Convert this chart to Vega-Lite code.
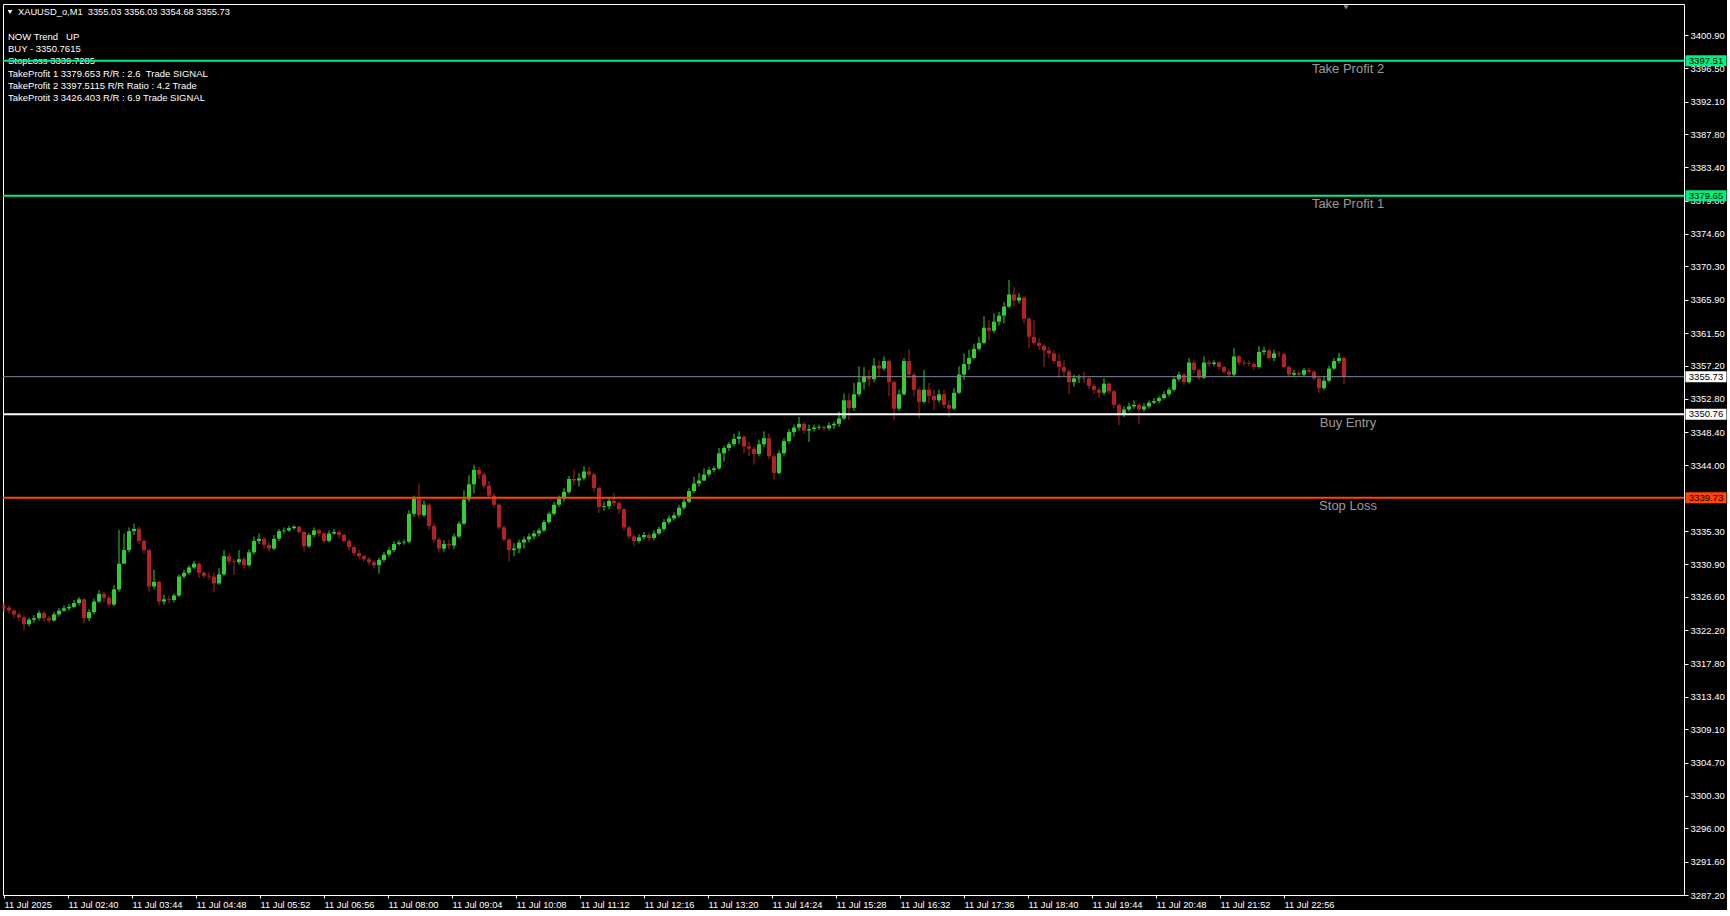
{
"$schema":"https://vega.github.io/schema/vega-lite/v6.json",
"width":1681,"height":891,
"padding":{"left":2,"top":4,"right":0,"bottom":0},
"background":"#000000",
"config":{"view":{"stroke":"#FFFFFF","strokeWidth":1,"fill":"#000000"},"axis":{"grid":false,"domain":false,"labelOverlap":false},"scale":{"continuousPadding":0}},
"datasets":{
"candles":[
{"m":96,"o":3325.4,"h":3325.9,"l":3324.6,"c":3325.2},
{"m":101,"o":3325.2,"h":3325.5,"l":3324.4,"c":3324.8},
{"m":106,"o":3324.8,"h":3325.0,"l":3323.8,"c":3324.3},
{"m":111,"o":3324.3,"h":3324.6,"l":3323.4,"c":3323.9},
{"m":116,"o":3323.9,"h":3324.2,"l":3322.2,"c":3323.0},
{"m":121,"o":3323.0,"h":3323.9,"l":3322.7,"c":3323.6},
{"m":126,"o":3323.6,"h":3324.2,"l":3323.2,"c":3323.8},
{"m":131,"o":3323.8,"h":3324.8,"l":3323.5,"c":3324.5},
{"m":136,"o":3324.5,"h":3324.7,"l":3323.4,"c":3323.8},
{"m":141,"o":3323.8,"h":3324.1,"l":3323.2,"c":3323.5},
{"m":146,"o":3323.5,"h":3324.6,"l":3323.3,"c":3324.3},
{"m":151,"o":3324.3,"h":3325.1,"l":3324.0,"c":3324.8},
{"m":156,"o":3324.8,"h":3325.5,"l":3324.6,"c":3325.1},
{"m":161,"o":3325.1,"h":3325.7,"l":3324.8,"c":3325.3},
{"m":166,"o":3325.3,"h":3326.2,"l":3325.1,"c":3325.8},
{"m":171,"o":3325.8,"h":3326.6,"l":3325.5,"c":3326.3},
{"m":176,"o":3326.3,"h":3326.5,"l":3323.1,"c":3323.8},
{"m":181,"o":3323.8,"h":3325.0,"l":3323.4,"c":3324.6},
{"m":186,"o":3324.6,"h":3326.4,"l":3324.3,"c":3326.0},
{"m":191,"o":3326.0,"h":3327.5,"l":3325.8,"c":3327.0},
{"m":196,"o":3327.0,"h":3327.3,"l":3325.9,"c":3326.5},
{"m":201,"o":3326.5,"h":3326.8,"l":3325.3,"c":3325.6},
{"m":206,"o":3325.6,"h":3328.2,"l":3325.4,"c":3327.6},
{"m":211,"o":3327.6,"h":3335.5,"l":3327.3,"c":3331.0},
{"m":216,"o":3331.0,"h":3335.0,"l":3331.4,"c":3332.8},
{"m":221,"o":3332.8,"h":3335.8,"l":3332.5,"c":3335.3},
{"m":226,"o":3335.3,"h":3336.3,"l":3334.8,"c":3335.6},
{"m":231,"o":3335.6,"h":3335.9,"l":3333.6,"c":3334.0},
{"m":236,"o":3334.0,"h":3334.3,"l":3332.3,"c":3332.8},
{"m":241,"o":3332.8,"h":3333.0,"l":3327.3,"c":3328.0},
{"m":246,"o":3328.0,"h":3330.2,"l":3327.6,"c":3328.6},
{"m":251,"o":3328.6,"h":3328.8,"l":3325.5,"c":3326.0},
{"m":256,"o":3326.0,"h":3326.9,"l":3325.6,"c":3326.3},
{"m":261,"o":3326.3,"h":3326.8,"l":3325.8,"c":3326.2},
{"m":266,"o":3326.2,"h":3327.1,"l":3325.9,"c":3326.8},
{"m":271,"o":3326.8,"h":3329.6,"l":3326.6,"c":3329.3},
{"m":276,"o":3329.3,"h":3330.2,"l":3329.0,"c":3329.8},
{"m":281,"o":3329.8,"h":3330.8,"l":3329.5,"c":3330.5},
{"m":286,"o":3330.5,"h":3331.4,"l":3330.3,"c":3331.0},
{"m":291,"o":3331.0,"h":3331.2,"l":3329.1,"c":3329.8},
{"m":296,"o":3329.8,"h":3330.0,"l":3329.1,"c":3329.4},
{"m":301,"o":3329.4,"h":3329.9,"l":3328.9,"c":3329.3},
{"m":306,"o":3329.3,"h":3329.8,"l":3327.3,"c":3328.4},
{"m":311,"o":3328.4,"h":3330.4,"l":3328.2,"c":3329.6},
{"m":316,"o":3329.6,"h":3332.8,"l":3329.4,"c":3332.0},
{"m":321,"o":3332.0,"h":3332.3,"l":3330.9,"c":3331.3},
{"m":326,"o":3331.3,"h":3331.6,"l":3329.5,"c":3331.2},
{"m":331,"o":3331.2,"h":3332.8,"l":3330.9,"c":3331.6},
{"m":336,"o":3331.6,"h":3331.9,"l":3330.4,"c":3330.8},
{"m":341,"o":3330.8,"h":3332.9,"l":3330.6,"c":3332.5},
{"m":346,"o":3332.5,"h":3334.6,"l":3332.2,"c":3334.0},
{"m":351,"o":3334.0,"h":3335.0,"l":3333.6,"c":3334.3},
{"m":356,"o":3334.3,"h":3334.6,"l":3333.0,"c":3333.5},
{"m":361,"o":3333.5,"h":3333.8,"l":3332.6,"c":3333.0},
{"m":366,"o":3333.0,"h":3334.8,"l":3332.8,"c":3334.3},
{"m":371,"o":3334.3,"h":3335.6,"l":3334.0,"c":3335.3},
{"m":376,"o":3335.3,"h":3335.8,"l":3335.0,"c":3335.4},
{"m":381,"o":3335.4,"h":3336.0,"l":3335.2,"c":3335.7},
{"m":386,"o":3335.7,"h":3336.1,"l":3335.5,"c":3335.9},
{"m":391,"o":3335.9,"h":3336.0,"l":3334.9,"c":3335.2},
{"m":396,"o":3335.2,"h":3335.4,"l":3332.6,"c":3333.3},
{"m":401,"o":3333.3,"h":3335.1,"l":3333.1,"c":3334.8},
{"m":406,"o":3334.8,"h":3335.8,"l":3334.5,"c":3335.4},
{"m":411,"o":3335.4,"h":3335.6,"l":3334.6,"c":3335.0},
{"m":416,"o":3335.0,"h":3335.2,"l":3333.7,"c":3334.0},
{"m":421,"o":3334.0,"h":3335.4,"l":3333.8,"c":3335.0},
{"m":426,"o":3335.0,"h":3335.6,"l":3334.8,"c":3335.2},
{"m":431,"o":3335.2,"h":3335.4,"l":3334.4,"c":3334.8},
{"m":436,"o":3334.8,"h":3335.0,"l":3333.7,"c":3334.0},
{"m":441,"o":3334.0,"h":3334.3,"l":3332.8,"c":3333.2},
{"m":446,"o":3333.2,"h":3333.5,"l":3332.1,"c":3332.4},
{"m":451,"o":3332.4,"h":3332.8,"l":3331.6,"c":3332.0},
{"m":456,"o":3332.0,"h":3332.2,"l":3331.3,"c":3331.6},
{"m":461,"o":3331.6,"h":3331.9,"l":3330.8,"c":3331.2},
{"m":466,"o":3331.2,"h":3331.4,"l":3330.4,"c":3330.8},
{"m":471,"o":3330.8,"h":3331.8,"l":3329.7,"c":3331.5},
{"m":476,"o":3331.5,"h":3332.6,"l":3331.2,"c":3332.2},
{"m":481,"o":3332.2,"h":3333.2,"l":3331.9,"c":3332.8},
{"m":486,"o":3332.8,"h":3334.0,"l":3332.5,"c":3333.6},
{"m":491,"o":3333.6,"h":3334.1,"l":3333.4,"c":3333.8},
{"m":496,"o":3333.8,"h":3334.2,"l":3333.5,"c":3333.9},
{"m":501,"o":3333.9,"h":3338.1,"l":3333.7,"c":3337.6},
{"m":506,"o":3337.6,"h":3340.0,"l":3337.2,"c":3339.6},
{"m":511,"o":3339.6,"h":3341.6,"l":3337.0,"c":3337.4},
{"m":516,"o":3337.4,"h":3339.4,"l":3337.2,"c":3338.8},
{"m":521,"o":3338.8,"h":3339.0,"l":3335.5,"c":3336.0},
{"m":526,"o":3336.0,"h":3336.3,"l":3333.8,"c":3334.2},
{"m":531,"o":3334.2,"h":3334.5,"l":3332.6,"c":3333.0},
{"m":536,"o":3333.0,"h":3334.1,"l":3332.6,"c":3333.6},
{"m":541,"o":3333.6,"h":3334.2,"l":3332.9,"c":3333.4},
{"m":546,"o":3333.4,"h":3335.0,"l":3333.0,"c":3334.6},
{"m":551,"o":3334.6,"h":3336.6,"l":3334.4,"c":3336.3},
{"m":556,"o":3336.3,"h":3340.7,"l":3336.1,"c":3339.5},
{"m":561,"o":3339.5,"h":3342.7,"l":3339.2,"c":3341.5},
{"m":566,"o":3341.5,"h":3344.1,"l":3340.3,"c":3343.4},
{"m":571,"o":3343.4,"h":3343.8,"l":3342.2,"c":3342.8},
{"m":576,"o":3342.8,"h":3343.1,"l":3340.9,"c":3341.3},
{"m":581,"o":3341.3,"h":3341.9,"l":3339.7,"c":3340.0},
{"m":586,"o":3340.0,"h":3340.3,"l":3338.4,"c":3338.8},
{"m":591,"o":3338.8,"h":3339.0,"l":3335.5,"c":3335.8},
{"m":596,"o":3335.8,"h":3336.1,"l":3333.9,"c":3334.2},
{"m":601,"o":3334.2,"h":3334.4,"l":3331.3,"c":3332.8},
{"m":606,"o":3332.8,"h":3333.7,"l":3332.0,"c":3333.0},
{"m":611,"o":3333.0,"h":3334.2,"l":3332.4,"c":3333.8},
{"m":616,"o":3333.8,"h":3334.6,"l":3333.0,"c":3334.2},
{"m":621,"o":3334.2,"h":3335.0,"l":3333.8,"c":3334.6},
{"m":626,"o":3334.6,"h":3335.4,"l":3334.2,"c":3335.0},
{"m":631,"o":3335.0,"h":3335.7,"l":3334.6,"c":3335.4},
{"m":636,"o":3335.4,"h":3336.8,"l":3335.2,"c":3336.5},
{"m":641,"o":3336.5,"h":3337.9,"l":3336.3,"c":3337.6},
{"m":646,"o":3337.6,"h":3339.2,"l":3337.4,"c":3338.8},
{"m":651,"o":3338.8,"h":3340.0,"l":3338.5,"c":3339.6},
{"m":656,"o":3339.6,"h":3341.0,"l":3339.2,"c":3340.5},
{"m":661,"o":3340.5,"h":3342.6,"l":3340.2,"c":3342.2},
{"m":666,"o":3342.2,"h":3343.5,"l":3341.4,"c":3342.0},
{"m":671,"o":3342.0,"h":3343.0,"l":3341.2,"c":3342.3},
{"m":676,"o":3342.3,"h":3343.9,"l":3342.0,"c":3343.2},
{"m":681,"o":3343.2,"h":3343.8,"l":3342.4,"c":3342.8},
{"m":686,"o":3342.8,"h":3343.0,"l":3340.5,"c":3341.0},
{"m":691,"o":3341.0,"h":3341.2,"l":3337.7,"c":3338.5},
{"m":696,"o":3338.5,"h":3339.2,"l":3338.0,"c":3338.6},
{"m":701,"o":3338.6,"h":3339.8,"l":3338.2,"c":3339.3},
{"m":706,"o":3339.3,"h":3340.4,"l":3338.6,"c":3339.0},
{"m":711,"o":3339.0,"h":3339.3,"l":3337.6,"c":3338.2},
{"m":716,"o":3338.2,"h":3338.4,"l":3335.4,"c":3335.8},
{"m":721,"o":3335.8,"h":3336.0,"l":3334.2,"c":3334.6},
{"m":726,"o":3334.6,"h":3334.9,"l":3333.3,"c":3334.0},
{"m":731,"o":3334.0,"h":3334.9,"l":3333.7,"c":3334.5},
{"m":736,"o":3334.5,"h":3335.2,"l":3334.2,"c":3334.8},
{"m":741,"o":3334.8,"h":3335.1,"l":3334.0,"c":3334.4},
{"m":746,"o":3334.4,"h":3335.4,"l":3334.1,"c":3335.0},
{"m":751,"o":3335.0,"h":3335.9,"l":3334.8,"c":3335.6},
{"m":756,"o":3335.6,"h":3336.9,"l":3335.3,"c":3336.5},
{"m":761,"o":3336.5,"h":3337.4,"l":3336.2,"c":3337.0},
{"m":766,"o":3337.0,"h":3337.8,"l":3336.7,"c":3337.4},
{"m":771,"o":3337.4,"h":3338.8,"l":3337.1,"c":3338.4},
{"m":776,"o":3338.4,"h":3339.7,"l":3338.1,"c":3339.2},
{"m":781,"o":3339.2,"h":3341.0,"l":3339.0,"c":3340.6},
{"m":786,"o":3340.6,"h":3342.5,"l":3340.3,"c":3341.6},
{"m":791,"o":3341.6,"h":3343.0,"l":3341.2,"c":3342.0},
{"m":796,"o":3342.0,"h":3343.6,"l":3341.9,"c":3342.8},
{"m":801,"o":3342.8,"h":3343.8,"l":3342.5,"c":3343.4},
{"m":806,"o":3343.4,"h":3343.9,"l":3343.1,"c":3343.6},
{"m":811,"o":3343.6,"h":3346.3,"l":3343.4,"c":3345.6},
{"m":816,"o":3345.6,"h":3346.6,"l":3344.5,"c":3346.3},
{"m":821,"o":3346.3,"h":3347.1,"l":3345.9,"c":3346.8},
{"m":826,"o":3346.8,"h":3348.2,"l":3346.5,"c":3347.5},
{"m":831,"o":3347.5,"h":3348.5,"l":3346.8,"c":3347.8},
{"m":836,"o":3347.8,"h":3348.0,"l":3345.6,"c":3346.5},
{"m":841,"o":3346.5,"h":3347.1,"l":3345.2,"c":3346.2},
{"m":846,"o":3346.2,"h":3346.5,"l":3344.1,"c":3345.5},
{"m":851,"o":3345.5,"h":3347.4,"l":3345.2,"c":3346.8},
{"m":856,"o":3346.8,"h":3348.5,"l":3346.4,"c":3347.6},
{"m":861,"o":3347.6,"h":3348.2,"l":3344.8,"c":3345.2},
{"m":866,"o":3345.2,"h":3345.5,"l":3342.1,"c":3343.0},
{"m":871,"o":3343.0,"h":3346.0,"l":3342.8,"c":3345.6},
{"m":876,"o":3345.6,"h":3347.6,"l":3345.3,"c":3347.2},
{"m":881,"o":3347.2,"h":3348.8,"l":3346.9,"c":3348.4},
{"m":886,"o":3348.4,"h":3349.4,"l":3347.8,"c":3349.0},
{"m":891,"o":3349.0,"h":3350.4,"l":3348.6,"c":3349.5},
{"m":896,"o":3349.5,"h":3349.8,"l":3348.2,"c":3348.6},
{"m":901,"o":3348.6,"h":3349.4,"l":3347.1,"c":3348.8},
{"m":906,"o":3348.8,"h":3349.4,"l":3348.5,"c":3349.0},
{"m":911,"o":3349.0,"h":3349.4,"l":3348.7,"c":3349.1},
{"m":916,"o":3349.1,"h":3349.3,"l":3348.5,"c":3348.9},
{"m":921,"o":3348.9,"h":3349.7,"l":3348.6,"c":3349.3},
{"m":926,"o":3349.3,"h":3349.8,"l":3348.8,"c":3349.5},
{"m":931,"o":3349.5,"h":3351.1,"l":3349.1,"c":3350.2},
{"m":936,"o":3350.2,"h":3353.5,"l":3350.0,"c":3352.6},
{"m":941,"o":3352.6,"h":3353.5,"l":3350.0,"c":3351.6},
{"m":946,"o":3351.6,"h":3354.9,"l":3351.2,"c":3353.4},
{"m":951,"o":3353.4,"h":3357.1,"l":3353.1,"c":3355.0},
{"m":956,"o":3355.0,"h":3357.0,"l":3354.0,"c":3355.8},
{"m":961,"o":3355.8,"h":3356.6,"l":3354.4,"c":3355.4},
{"m":966,"o":3355.4,"h":3358.2,"l":3355.0,"c":3357.2},
{"m":971,"o":3357.2,"h":3357.9,"l":3355.7,"c":3356.8},
{"m":976,"o":3356.8,"h":3358.4,"l":3356.5,"c":3357.8},
{"m":981,"o":3357.8,"h":3358.0,"l":3353.1,"c":3355.0},
{"m":986,"o":3355.0,"h":3355.2,"l":3350.0,"c":3351.5},
{"m":991,"o":3351.5,"h":3354.0,"l":3351.2,"c":3353.4},
{"m":996,"o":3353.4,"h":3358.2,"l":3353.2,"c":3357.8},
{"m":1001,"o":3357.8,"h":3359.4,"l":3355.5,"c":3356.0},
{"m":1006,"o":3356.0,"h":3356.3,"l":3353.1,"c":3354.0},
{"m":1011,"o":3354.0,"h":3354.3,"l":3350.2,"c":3352.4},
{"m":1016,"o":3352.4,"h":3356.6,"l":3352.2,"c":3354.0},
{"m":1021,"o":3354.0,"h":3354.9,"l":3352.2,"c":3353.2},
{"m":1026,"o":3353.2,"h":3354.0,"l":3351.3,"c":3352.6},
{"m":1031,"o":3352.6,"h":3354.0,"l":3352.3,"c":3353.4},
{"m":1036,"o":3353.4,"h":3354.0,"l":3351.6,"c":3352.0},
{"m":1041,"o":3352.0,"h":3352.6,"l":3350.4,"c":3351.5},
{"m":1046,"o":3351.5,"h":3354.2,"l":3351.3,"c":3353.6},
{"m":1051,"o":3353.6,"h":3357.1,"l":3353.4,"c":3356.0},
{"m":1056,"o":3356.0,"h":3358.8,"l":3355.3,"c":3357.4},
{"m":1061,"o":3357.4,"h":3359.3,"l":3356.6,"c":3358.2},
{"m":1066,"o":3358.2,"h":3360.1,"l":3358.0,"c":3359.4},
{"m":1071,"o":3359.4,"h":3361.0,"l":3359.2,"c":3360.2},
{"m":1076,"o":3360.2,"h":3363.7,"l":3360.0,"c":3362.2},
{"m":1081,"o":3362.2,"h":3363.2,"l":3360.6,"c":3361.8},
{"m":1086,"o":3361.8,"h":3364.1,"l":3361.5,"c":3363.0},
{"m":1091,"o":3363.0,"h":3364.3,"l":3362.5,"c":3363.8},
{"m":1096,"o":3363.8,"h":3365.6,"l":3362.8,"c":3365.0},
{"m":1101,"o":3365.0,"h":3368.5,"l":3364.8,"c":3366.6},
{"m":1106,"o":3366.6,"h":3367.6,"l":3365.0,"c":3365.8},
{"m":1111,"o":3365.8,"h":3366.8,"l":3365.4,"c":3366.2},
{"m":1116,"o":3366.2,"h":3366.4,"l":3362.8,"c":3363.4},
{"m":1121,"o":3363.4,"h":3363.6,"l":3359.5,"c":3361.0},
{"m":1126,"o":3361.0,"h":3363.2,"l":3359.9,"c":3360.2},
{"m":1131,"o":3360.2,"h":3360.8,"l":3359.3,"c":3359.8},
{"m":1136,"o":3359.8,"h":3360.1,"l":3357.0,"c":3359.2},
{"m":1141,"o":3359.2,"h":3359.7,"l":3358.2,"c":3358.8},
{"m":1146,"o":3358.8,"h":3359.2,"l":3357.4,"c":3357.8},
{"m":1151,"o":3357.8,"h":3358.8,"l":3355.5,"c":3357.0},
{"m":1156,"o":3357.0,"h":3357.9,"l":3355.7,"c":3356.4},
{"m":1161,"o":3356.4,"h":3356.7,"l":3353.4,"c":3355.0},
{"m":1166,"o":3355.0,"h":3356.0,"l":3354.4,"c":3355.5},
{"m":1171,"o":3355.5,"h":3356.0,"l":3354.9,"c":3355.6},
{"m":1176,"o":3355.6,"h":3356.4,"l":3354.9,"c":3355.5},
{"m":1181,"o":3355.5,"h":3355.7,"l":3354.1,"c":3354.5},
{"m":1186,"o":3354.5,"h":3354.8,"l":3353.5,"c":3354.0},
{"m":1191,"o":3354.0,"h":3354.3,"l":3352.9,"c":3353.6},
{"m":1196,"o":3353.6,"h":3355.5,"l":3353.3,"c":3354.8},
{"m":1201,"o":3354.8,"h":3355.0,"l":3353.4,"c":3353.8},
{"m":1206,"o":3353.8,"h":3354.0,"l":3351.6,"c":3352.0},
{"m":1211,"o":3352.0,"h":3352.2,"l":3349.3,"c":3350.8},
{"m":1216,"o":3350.8,"h":3351.8,"l":3350.4,"c":3351.4},
{"m":1221,"o":3351.4,"h":3352.3,"l":3351.1,"c":3351.8},
{"m":1226,"o":3351.8,"h":3352.6,"l":3351.5,"c":3352.0},
{"m":1231,"o":3352.0,"h":3352.3,"l":3349.5,"c":3351.4},
{"m":1236,"o":3351.4,"h":3352.2,"l":3351.1,"c":3351.8},
{"m":1241,"o":3351.8,"h":3352.6,"l":3351.5,"c":3352.3},
{"m":1246,"o":3352.3,"h":3352.9,"l":3352.1,"c":3352.5},
{"m":1251,"o":3352.5,"h":3353.2,"l":3352.2,"c":3352.9},
{"m":1256,"o":3352.9,"h":3353.8,"l":3352.7,"c":3353.4},
{"m":1261,"o":3353.4,"h":3354.3,"l":3353.1,"c":3354.0},
{"m":1266,"o":3354.0,"h":3355.7,"l":3353.8,"c":3355.4},
{"m":1271,"o":3355.4,"h":3356.4,"l":3355.1,"c":3356.0},
{"m":1276,"o":3356.0,"h":3356.2,"l":3354.6,"c":3355.0},
{"m":1281,"o":3355.0,"h":3358.2,"l":3354.8,"c":3357.6},
{"m":1286,"o":3357.6,"h":3357.9,"l":3356.2,"c":3356.6},
{"m":1291,"o":3356.6,"h":3356.8,"l":3355.3,"c":3355.6},
{"m":1296,"o":3355.6,"h":3358.4,"l":3355.4,"c":3357.6},
{"m":1301,"o":3357.6,"h":3357.9,"l":3357.1,"c":3357.4},
{"m":1306,"o":3357.4,"h":3357.9,"l":3357.1,"c":3357.6},
{"m":1311,"o":3357.6,"h":3357.8,"l":3356.7,"c":3357.0},
{"m":1316,"o":3357.0,"h":3357.2,"l":3356.1,"c":3356.4},
{"m":1321,"o":3356.4,"h":3356.8,"l":3355.6,"c":3356.0},
{"m":1326,"o":3356.0,"h":3359.5,"l":3355.8,"c":3358.4},
{"m":1331,"o":3358.4,"h":3358.6,"l":3357.2,"c":3357.6},
{"m":1336,"o":3357.6,"h":3357.9,"l":3357.1,"c":3357.5},
{"m":1341,"o":3357.5,"h":3357.9,"l":3357.1,"c":3357.4},
{"m":1346,"o":3357.4,"h":3357.6,"l":3356.6,"c":3357.0},
{"m":1351,"o":3357.0,"h":3359.8,"l":3356.8,"c":3359.0},
{"m":1356,"o":3359.0,"h":3359.7,"l":3358.6,"c":3359.2},
{"m":1361,"o":3359.2,"h":3359.4,"l":3357.9,"c":3358.2},
{"m":1366,"o":3358.2,"h":3359.3,"l":3357.8,"c":3358.8},
{"m":1371,"o":3358.8,"h":3359.1,"l":3358.3,"c":3358.7},
{"m":1376,"o":3358.7,"h":3358.9,"l":3356.8,"c":3357.0},
{"m":1381,"o":3357.0,"h":3357.2,"l":3355.7,"c":3356.0},
{"m":1386,"o":3356.0,"h":3356.6,"l":3355.7,"c":3356.2},
{"m":1391,"o":3356.2,"h":3356.5,"l":3355.7,"c":3356.0},
{"m":1396,"o":3356.0,"h":3356.9,"l":3355.8,"c":3356.6},
{"m":1401,"o":3356.6,"h":3356.9,"l":3356.1,"c":3356.4},
{"m":1406,"o":3356.4,"h":3356.6,"l":3355.2,"c":3355.5},
{"m":1411,"o":3355.5,"h":3355.7,"l":3353.6,"c":3354.2},
{"m":1416,"o":3354.2,"h":3355.7,"l":3354.0,"c":3355.2},
{"m":1421,"o":3355.2,"h":3357.2,"l":3355.0,"c":3356.8},
{"m":1426,"o":3356.8,"h":3358.2,"l":3356.6,"c":3357.8},
{"m":1431,"o":3357.8,"h":3358.9,"l":3357.5,"c":3358.2},
{"m":1436,"o":3358.2,"h":3358.4,"l":3354.68,"c":3355.73}
],
"levels":[
{"k":"tp2","p":3397.51,"label":"Take Profit 2","tag":"3397.51"},
{"k":"tp1","p":3379.65,"label":"Take Profit 1","tag":"3379.65"},
{"k":"cur","p":3355.73,"label":"","tag":"3355.73"},
{"k":"entry","p":3350.76,"label":"Buy Entry","tag":"3350.76"},
{"k":"sl","p":3339.73,"label":"Stop Loss","tag":"3339.73"}
]
},
"layer":[
{"data":{"name":"candles"},
 "mark":{"type":"rule","strokeWidth":1},
 "encoding":{
  "x":{"field":"m","type":"quantitative","scale":{"domain":[95,1776],"nice":false,"zero":false,"padding":0},
   "axis":{"orient":"bottom","title":null,"tickCount":60,"values":[96,160,224,288,352,416,480,544,608,672,736,800,864,928,992,1056,1120,1184,1248,1312,1376],
    "labelExpr":"datum.value < 100 ? '11 Jul 2025' : '11 Jul ' + utcFormat(datum.value * 60000, '%H:%M')",
    "tickColor":"#FFFFFF","tickSize":3,"labelColor":"#FFFFFF","labelFont":"Liberation Sans","labelFontSize":9.3,
    "labelAlign":"left","labelBaseline":"top","labelPadding":2,"labelOverlap":false,"labelBound":false,"labelFlush":false,"domain":false,"grid":false}},
  "y":{"field":"l","type":"quantitative","scale":{"domain":[3287.2,3405.0],"nice":false,"zero":false,"padding":0},
   "axis":{"orient":"right","title":null,"tickCount":60,"values":[3287.2,3291.6,3296.0,3300.3,3304.7,3309.1,3313.4,3317.8,3322.2,3326.6,3330.9,3335.3,3344.0,3348.4,3352.8,3357.2,3361.5,3365.9,3370.3,3374.6,3379.0,3383.4,3387.8,3392.1,3396.5,3400.9],
    "format":".2f","tickColor":"#FFFFFF","tickSize":4,"labelColor":"#FFFFFF","labelFont":"Liberation Sans","labelFontSize":9.5,
    "labelPadding":2,"labelOverlap":false,"labelBound":false,"labelFlush":false,"domain":false,"grid":false}},
  "y2":{"field":"h"},
  "color":{"condition":{"test":"datum.c >= datum.o","value":"#32CD32"},"value":"#B22222"}
 }},
{"data":{"name":"candles"},
 "mark":{"type":"bar","width":4},
 "encoding":{
  "x":{"field":"m","type":"quantitative"},
  "y":{"field":"o","type":"quantitative"},
  "y2":{"field":"c"},
  "color":{"condition":{"test":"datum.c >= datum.o","value":"#32CD32"},"value":"#B22222"}
 }},
{"data":{"values":[{}]},
 "mark":{"type":"text","text":["NOW Trend\u00a0\u00a0\u00a0UP","BUY - 3350.7615","StopLoss 3339.7285","TakeProfit 1 3379.653 R/R : 2.6\u00a0\u00a0Trade SIGNAL","TakeProfit 2 3397.5115 R/R Ratio : 4.2 Trade","TakeProtit 3 3426.403 R/R : 6.9 Trade SIGNAL"],
  "align":"left","baseline":"top","font":"Liberation Sans","fontSize":9.5,"lineHeight":12.1,"color":"#FFFFFF"},
 "encoding":{"x":{"datum":100,"type":"quantitative"},"y":{"datum":3401.26,"type":"quantitative"}}},
{"data":{"values":[{}]},
 "mark":{"type":"text","text":"XAUUSD_o,M1\u00a0\u00a03355.03 3356.03 3354.68 3355.73","align":"left","baseline":"top","font":"Liberation Sans","fontSize":9.3,"color":"#FFFFFF"},
 "encoding":{"x":{"datum":110,"type":"quantitative"},"y":{"datum":3404.51,"type":"quantitative"}}},
{"data":{"values":[{}]},
 "mark":{"type":"point","shape":"triangle-down","filled":true,"size":22,"color":"#FFFFFF","opacity":1},
 "encoding":{"x":{"datum":102,"type":"quantitative"},"y":{"datum":3403.95,"type":"quantitative"}}},
{"data":{"values":[{}]},
 "mark":{"type":"point","shape":"triangle-down","filled":true,"size":25,"color":"#8C8C8C","opacity":1},
 "encoding":{"x":{"datum":1438,"type":"quantitative"},"y":{"datum":3404.55,"type":"quantitative"}}},
{"data":{"name":"levels"},
 "transform":[{"filter":"datum.k != 'cur'"}],
 "mark":{"type":"rule","strokeWidth":2},
 "encoding":{
  "y":{"field":"p","type":"quantitative"},
  "color":{"field":"k","type":"nominal","scale":{"domain":["tp2","tp1","entry","sl"],"range":["#00F07F","#00F07F","#FFFFFF","#FF4500"]},"legend":null}
 }},
{"data":{"name":"levels"},
 "transform":[{"filter":"datum.k == 'cur'"}],
 "mark":{"type":"rule","strokeWidth":1,"color":"#778899"},
 "encoding":{"y":{"field":"p","type":"quantitative"}}},
{"data":{"name":"levels"},
 "transform":[{"filter":"datum.label != ''"}],
 "mark":{"type":"text","align":"center","baseline":"middle","dy":8.5,"font":"Liberation Sans","fontSize":13,"color":"#9A9A9A"},
 "encoding":{"x":{"datum":1440,"type":"quantitative"},"y":{"field":"p","type":"quantitative"},"text":{"field":"label"}}},
{"data":{"name":"levels"},
 "mark":{"type":"tick","orient":"horizontal","size":41,"thickness":11,"opacity":1,"filled":true},
 "encoding":{
  "x":{"datum":1798,"type":"quantitative"},
  "y":{"field":"p","type":"quantitative"},
  "fill":{"field":"k","type":"nominal","scale":{"domain":["tp2","tp1","cur","entry","sl"],"range":["#00F07F","#00F07F","#FFFFFF","#FFFFFF","#FF4500"]},"legend":null}
 }},
{"data":{"name":"levels"},
 "mark":{"type":"text","align":"center","baseline":"middle","font":"Liberation Sans","fontSize":9.5,"color":"#000000"},
 "encoding":{"x":{"datum":1798,"type":"quantitative"},"y":{"field":"p","type":"quantitative"},"text":{"field":"tag"}}}
]
}
